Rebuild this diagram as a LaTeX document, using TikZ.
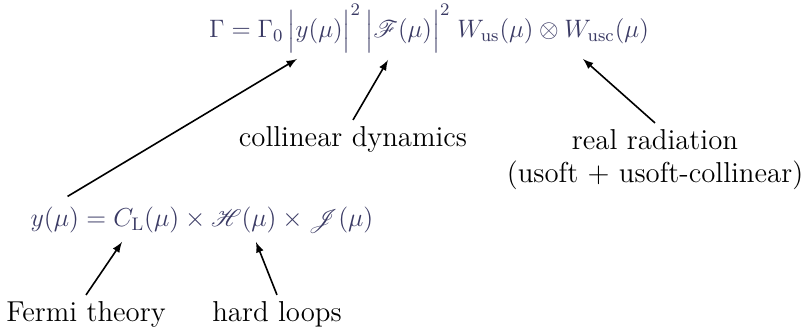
\RequirePackage{fix-cm}
\documentclass[tikz,border=0pt]{standalone}
\usepackage{amsmath}
\usepackage{mathrsfs}
\usepackage{xcolor}
\definecolor{eqnavy}{RGB}{58,58,100}

\begin{document}
\begin{tikzpicture}[x=0.5pt,y=0.5pt,font=\fontsize{14.4}{17}\selectfont,
    formula/.style={eqnavy,anchor=base,font=\fontsize{12.6}{15}\selectfont},
    label/.style={anchor=base},
    pointer/.style={-latex,thick}]
      \useasboundingbox (0,0) rectangle (803,330);

      % Formulas
      \node[formula] (rate) at (429,292) {$\Gamma=\Gamma_0\,\Bigl|y(\mu)\Bigr|^2\,\Bigl|\mathscr{F}(\mu)\Bigr|^2\;W_{\mathrm{us}}(\mu)\otimes W_{\mathrm{usc}}(\mu)$};
      \node[formula,font=\fontsize{13}{15}\selectfont] (yfac) at (202,103) {$y(\mu)=C_{\mathrm{L}}(\mu)\times\mathscr{H}(\mu)\times\mathscr{J}(\mu)$};

      % Labels
      \node[label] (coll) at (353,183) {collinear dynamics};
      \node[label] (real) at (655,180) {real radiation};
      \node[label] (realsub) at (655,147) {(usoft + usoft-collinear)};
      \node[label] (fermi) at (86,8) {Fermi theory};
      \node[label] (hard) at (277,8) {hard loops};

      % Arrow tips
      \coordinate (ytip) at (297,271);
      \coordinate (colltip) at (388,270);
      \coordinate (realtip) at (583,271);
      \coordinate (fermitip) at (122,88);
      \coordinate (hardtip) at (256,88);

      % Arrows
      \draw[pointer] ([xshift=22pt,yshift=2pt]yfac.north west) -- (ytip);
      \draw[pointer] (coll.north) -- (colltip);
      \draw[pointer] (real.north) -- (realtip);
      \draw[pointer] (fermi.north) -- (fermitip);
      \draw[pointer] (hard.north) -- (hardtip);
    \end{tikzpicture}
\end{document}
